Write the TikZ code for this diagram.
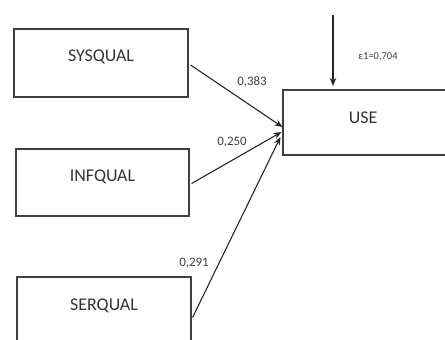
\documentclass[tikz,border=0pt]{standalone}
\usepackage{fontspec}
\setmainfont{Carlito}
\usetikzlibrary{arrows.meta,calc}
\begin{document}
\begin{tikzpicture}[x=1bp,y=-1bp,
  varbox/.style={draw=black!75,line width=1.1bp,fill=white,inner sep=0pt},
  boxtext/.style={font=\fontsize{18}{20}\selectfont,text=black!80},
  coef/.style={font=\fontsize{13}{15}\selectfont,text=black!75},
  path/.style={draw=black!85,line width=1.1bp,-{Stealth[length=8bp,width=6.5bp]}}]
\useasboundingbox (0,0) rectangle (445,339);
\clip (0,0) rectangle (445,339);
\node[varbox,minimum width=174bp,minimum height=68bp] (sys) at (101,63) {};
\node[boxtext] at ($(sys.center)+(0,-6)$) {SYSQUAL};
\node[varbox,minimum width=173bp,minimum height=67bp] (inf) at (102.5,182.5) {};
\node[boxtext] at ($(inf.center)+(0,-6)$) {INFQUAL};
\node[varbox,minimum width=174bp,minimum height=83bp] (ser) at (104,318.5) {};
\node[boxtext] at ($(ser.center)+(0,-13)$) {SERQUAL};
\node[varbox,minimum width=180bp,minimum height=65bp] (use) at (373,122.5) {};
\node[boxtext] at ($(use.center)+(-10,-5)$) {USE};
\coordinate (e1) at ($(use.west)+(0,4.5)$);
\coordinate (e2) at ($(use.west)+(-1,9.5)$);
\coordinate (e3) at ($(use.west)+(-2,14.5)$);
\coordinate (errtop) at (333,15);
\coordinate (errtip) at (333,86);
\draw[path] ($(sys.east)+(2,2)$) -- (e1);
\draw[path] ($(inf.east)+(2,1)$) -- (e2);
\draw[path] ($(ser.east)+(1,-1)$) -- (e3);
\draw[path] (errtop) -- (errtip);
\node[coef] (c1) at (252,82) {0,383};
\node[coef] (c2) at (232,142) {0,250};
\node[coef] (c3) at (194,263) {0,291};
\node[font=\fontsize{10.5}{12}\selectfont,text=black!75] (err) at (378,57) {ε1=0,704};
\end{tikzpicture}
\end{document}
